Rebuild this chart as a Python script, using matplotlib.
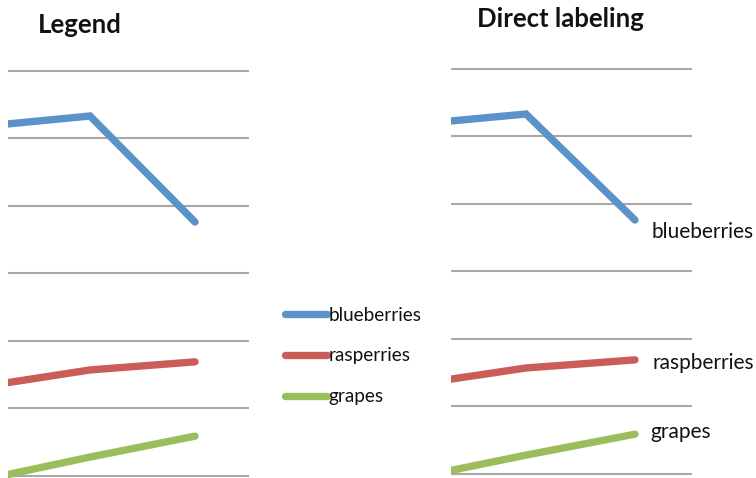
import matplotlib
matplotlib.use("Agg")
import matplotlib.pyplot as plt

plt.rcParams['font.family'] = ['Lato', 'DejaVu Sans']

# Data
periods = [0, 1, 2]
series_names = ["blueberries", "rasperries", "grapes"]
direct_names = ["blueberries", "raspberries", "grapes"]
blueberries = [51.8, 53.3, 37.6]
raspberries = [13.3, 15.7, 16.9]
grapes = [-0.5, 2.8, 5.9]
grid_values = [0, 10, 20, 30, 40, 50, 60]

colors = ["#5b93c9", "#cc5c58", "#9bbd5c"]
series = [blueberries, raspberries, grapes]

W, H = 756, 478
fig = plt.figure(figsize=(W / 100, H / 100), dpi=100)


def make_axes(left_px, right_px, top_px, bottom_px, xlim, ylim):
    ax = fig.add_axes([left_px / W, 1 - bottom_px / H,
                       (right_px - left_px) / W, (bottom_px - top_px) / H])
    ax.set_xlim(*xlim)
    ax.set_ylim(*ylim)
    for v in grid_values:
        ax.axhline(v, color="#a8a8a8", lw=1.5, zorder=1)
    for s in ax.spines.values():
        s.set_visible(False)
    ax.set_xticks([])
    ax.set_yticks([])
    ax.patch.set_alpha(0)
    return ax


ax1 = make_axes(8, 249, 64, 478, (0.219, 2.514), (-0.3, 61))
ax2 = make_axes(451, 692, 62, 478, (0.312, 2.523), (-0.59, 61))

lines = []
for vals, c, name in zip(series, colors, series_names):
    ln, = ax1.plot(periods, vals, color=c, lw=5.3, solid_capstyle="round",
                   solid_joinstyle="miter", label=name, zorder=3)
    lines.append(ln)

for vals, c in zip(series, colors):
    ax2.plot(periods, vals, color=c, lw=5.3, solid_capstyle="round",
             solid_joinstyle="miter", zorder=3)

# Direct labels next to the last point of each line
offsets = [(17, -12), (18, -3), (15, 2)]
for vals, name, off in zip(series, direct_names, offsets):
    ax2.annotate(name, (periods[-1], vals[-1]), xytext=off,
                 textcoords="offset pixels", ha="left", va="center",
                 fontsize=15, color="#111111", annotation_clip=False)

leg = fig.legend(handles=lines, loc="center left",
                 bbox_to_anchor=(285 / W, 1 - 356 / H), frameon=False,
                 fontsize=13.6, handlelength=2.2, handletextpad=0.1,
                 labelspacing=1.25, borderpad=0, borderaxespad=0)
for t in leg.get_texts():
    t.set_color("#111111")

fig.text(38 / W, 1 - 33 / H, "Legend", fontsize=18.5, fontweight="bold",
         ha="left", va="baseline", color="#111111")
fig.text(477 / W, 1 - 27 / H, "Direct labeling", fontsize=18.5,
         fontweight="bold", ha="left", va="baseline", color="#111111")

fig.savefig("out.png", dpi=100)
